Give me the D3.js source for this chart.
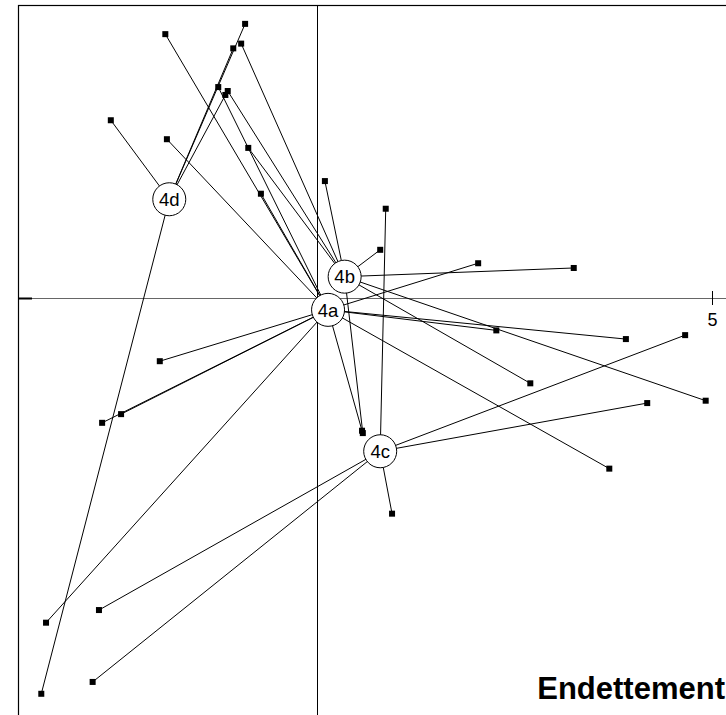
<!DOCTYPE html>
<html>
<head>
<meta charset="utf-8">
<script src="https://cdn.jsdelivr.net/npm/d3@7"></script>
<style>
  html, body { margin: 0; padding: 0; background: #fff; }
  svg { display: block; }
</style>
</head>
<body>
<svg id="chart" width="726" height="715"></svg>
<script>
// Class labels and their gravity centres (factorial coordinates)
const classes = ["4a", "4b", "4c", "4d"];
const centerX = [0.14, 0.35, 0.80, -1.87];
const centerY = [-0.15, 0.27, -1.94, 1.25];

// Individuals: coordinates and class membership
const pointX = [
  -1.92, -1.25, -1.90, -0.71, 2.04, 2.27, 3.91, 3.70, 0.57, -1.99, -2.48, -2.72, -3.43,
  -0.96, -1.13, -0.87, 0.10, 0.80, 3.25, 4.92, 2.70, 0.58,
  0.87, 4.66, 4.18, 0.95, -2.76, -2.84,
  -0.91, -1.06, -1.16, -2.61, -3.49
];
const pointY = [
  3.34, 2.67, 2.01, 1.32, 0.44, -0.41, -0.52, -2.16, -1.68, -0.80, -1.47, -1.58, -4.11,
  3.22, 2.62, 1.90, 1.48, 0.61, 0.38, -1.30, -1.08, -1.71,
  1.13, -0.47, -1.33, -2.73, -3.95, -4.86,
  3.47, 3.16, 2.57, 2.25, -5.01
];
const pointClass = [
  "4a","4a","4a","4a","4a","4a","4a","4a","4a","4a","4a","4a","4a",
  "4b","4b","4b","4b","4b","4b","4b","4b","4b",
  "4c","4c","4c","4c","4c","4c",
  "4d","4d","4d","4d","4d"
];

const xTicks = [5];
const title = "Endettement";

const svg = d3.select("#chart");
const W = 726, H = 715;

// Equal-unit scales centred on the origin
const x = d3.scaleLinear().domain([0, 5]).range([317, 712]);
const y = d3.scaleLinear().domain([0, 5]).range([298, -97]);

const centers = classes.map((c, i) => ({ name: c, x: centerX[i], y: centerY[i] }));
const centerOf = Object.fromEntries(centers.map(d => [d.name, d]));
const points = pointX.map((v, i) => ({ x: v, y: pointY[i], cls: pointClass[i] }));

// Frame (open to the right and bottom)
svg.append("rect")
  .attr("x", 18.5).attr("y", 5.5)
  .attr("width", 900).attr("height", 900)
  .attr("fill", "none").attr("stroke", "#000").attr("stroke-width", 1.2);

// Axes through the origin
svg.append("line")
  .attr("x1", 18).attr("x2", W)
  .attr("y1", y(0) + 0.5).attr("y2", y(0) + 0.5)
  .attr("stroke", "#666").attr("stroke-width", 1.2);
svg.append("line")
  .attr("x1", 18).attr("x2", 32)
  .attr("y1", y(0) + 0.5).attr("y2", y(0) + 0.5)
  .attr("stroke", "#000").attr("stroke-width", 2);
svg.append("line")
  .attr("x1", x(0) + 0.5).attr("x2", x(0) + 0.5)
  .attr("y1", 5).attr("y2", H)
  .attr("stroke", "#000").attr("stroke-width", 1);

// Scale tick
const tick = svg.append("g").selectAll("g").data(xTicks).join("g")
  .attr("transform", d => `translate(${x(d) + 0.5},0)`);
tick.append("line")
  .attr("y1", y(0) - 7).attr("y2", y(0) + 7)
  .attr("stroke", "#000").attr("stroke-width", 1);
tick.append("text")
  .attr("y", y(0) + 28)
  .attr("text-anchor", "middle")
  .attr("font-family", "Liberation Sans, Arial, sans-serif")
  .attr("font-size", 18)
  .text(d => d);

// Star segments from each individual to its class centre
svg.append("g").selectAll("line").data(points).join("line")
  .attr("x1", d => x(centerOf[d.cls].x)).attr("y1", d => y(centerOf[d.cls].y))
  .attr("x2", d => x(d.x)).attr("y2", d => y(d.y))
  .attr("stroke", "#000").attr("stroke-width", 1);

// Individuals
const s = 6;
svg.append("g").selectAll("rect").data(points).join("rect")
  .attr("x", d => x(d.x) - s / 2).attr("y", d => y(d.y) - s / 2)
  .attr("width", s).attr("height", s)
  .attr("fill", "#000");

// Class labels
const lab = svg.append("g").selectAll("g").data(centers).join("g")
  .attr("transform", d => `translate(${x(d.x)},${y(d.y)})`);
lab.append("circle")
  .attr("r", 16.5)
  .attr("fill", "#fff").attr("stroke", "#000").attr("stroke-width", 1);
lab.append("text")
  .attr("text-anchor", "middle")
  .attr("dy", "0.36em")
  .attr("font-family", "Liberation Sans, Arial, sans-serif")
  .attr("font-size", 18.5)
  .text(d => d.name);

// Title
svg.append("text")
  .attr("x", 725).attr("y", 699)
  .attr("text-anchor", "end")
  .attr("font-family", "Liberation Sans, Arial, sans-serif")
  .attr("font-weight", "bold")
  .attr("font-size", 31)
  .text(title);
</script>
</body>
</html>
